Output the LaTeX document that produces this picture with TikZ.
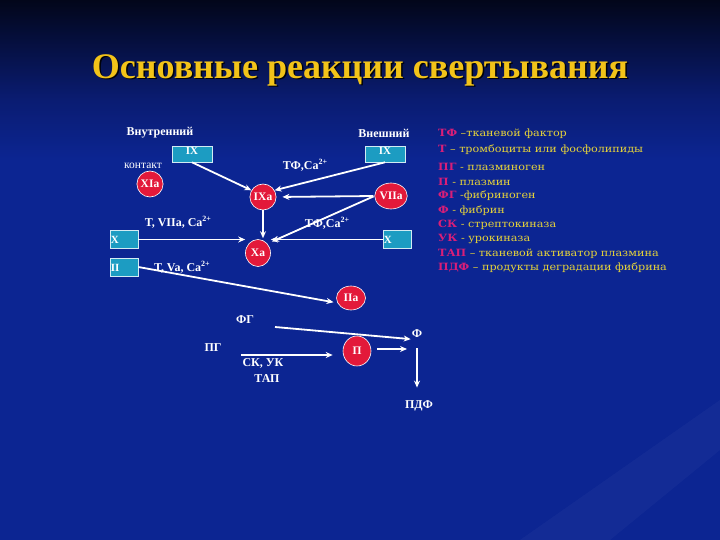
\documentclass[tikz,border=0pt]{standalone}
\usepackage{fontspec}
\setmainfont{Liberation Serif}
\newfontfamily\legfont[FakeStretch=1.12]{DejaVu Serif}
\usetikzlibrary{arrows.meta,shapes.geometric}
\definecolor{bgtop}{HTML}{02061A}
\definecolor{bgmid}{HTML}{0A1C72}
\definecolor{bgmain}{HTML}{0C2592}
\definecolor{titleyel}{HTML}{F2C319}
\definecolor{boxcyan}{HTML}{1C9CC2}
\definecolor{circred}{HTML}{E3193A}
\definecolor{legpink}{HTML}{D91E78}
\definecolor{legyel}{HTML}{E6D33A}
\newcommand{\sqp}{\raisebox{0.45em}{\fontsize{8}{8}\selectfont 2+}}
\begin{document}
\begin{tikzpicture}[x=1pt,y=-1pt,
  cbox/.style={draw=white!80!boxcyan, line width=0.6pt, fill=boxcyan, minimum width=40pt, minimum height=16pt, inner sep=0pt, text=white, text depth=6pt, font=\fontsize{11}{11}\selectfont\bfseries},
  sbox/.style={draw=white!80!boxcyan, line width=0.6pt, fill=boxcyan, minimum width=28pt, minimum height=18pt, inner sep=0pt},
  boxtxt/.style={text=white, inner sep=1pt, font=\fontsize{11}{11}\selectfont\bfseries},
  circ/.style={ellipse, draw=white, line width=0.6pt, fill=circred, inner sep=0pt, text=white, font=\fontsize{11.5}{11.5}\selectfont\bfseries},
  lbl/.style={text=white, inner sep=1pt, font=\fontsize{12}{12}\selectfont\bfseries},
  lblr/.style={text=white, inner sep=1pt, font=\fontsize{11.5}{12}\selectfont},
  arr/.style={-{Stealth[length=7pt,width=6pt]}, white, line width=1.8pt},
  leg/.style={anchor=west, inner sep=0pt, text=legyel, font=\legfont\fontsize{10}{10}\selectfont}
]
\useasboundingbox (0,0) rectangle (720,540);
% background
\fill[bgmain] (0,0) rectangle (720,540);
\shade[top color=bgtop, bottom color=bgmid] (0,0) rectangle (720,100);
\shade[top color=bgmid, bottom color=bgmain] (0,100) rectangle (720,160);
\fill[white, opacity=0.03] (520,540) -- (720,400) -- (720,450) -- (610,540) -- cycle;

% title
\node[text=black!70!bgtop, font=\fontsize{36}{36}\selectfont\bfseries] at (361.5,71.5) {Основные реакции свертывания};
\node[text=titleyel, font=\fontsize{36}{36}\selectfont\bfseries] (title) at (360,70) {Основные реакции свертывания};

% labels
\node[lbl] (lblInt) at (160,133) {Внутренний};
\node[lbl] (lblExt) at (384,133) {Внешний};
\node[lblr] (lblKont) at (143,166) {контакт};
\node[lbl] (lblTF1) at (305,165) {ТФ,Са\sqp};
\node[lbl] (lblTVII) at (178,222) {Т, VIIa, Са\sqp};
\node[lbl] (lblTF2) at (327,223) {ТФ,Са\sqp};
\node[lbl] (lblTVa) at (182,267) {Т, Va, Са\sqp};

% boxes
\node[cbox] (bIXl) at (192,154) {IX};
\node[cbox] (bIXr) at (385,154) {IX};
\node[sbox] (bXl) at (124,239.5) {};
\node[sbox] (bXr) at (397,239.5) {};
\node[sbox] (bII) at (124,267) {};
\node[boxtxt, anchor=west] (tXl) at (bXl.west) {X};
\node[boxtxt, anchor=west] (tXr) at (bXr.west) {X};
\node[boxtxt, anchor=west] (tII) at ([yshift=-1pt]bII.west) {II};

% circles
\node[circ, minimum width=24pt, minimum height=26pt] (XIa) at (150,184) {XIa};
\node[circ, minimum width=25pt, minimum height=26pt] (IXa) at (263,197) {IXa};
\node[circ, minimum width=29pt, minimum height=26pt] (VIIa) at (391,196) {VIIa};
\node[circ, minimum width=25pt, minimum height=27pt] (Xa) at (258,253) {Xa};
\node[circ, minimum width=29pt, minimum height=24pt] (IIa) at (351,298) {IIa};
\node[circ, minimum width=28pt, minimum height=30pt] (P) at (357,351) {П};

% lower labels
\node[lbl] (FG) at (245,320) {ФГ};
\node[lbl] (PG) at (213,348) {ПГ};
\node[lbl] (SKUK) at (263,363) {СК, УК};
\node[lbl] (TAP) at (267,379) {ТАП};
\node[lbl] (F) at (417,334) {Ф};
\node[lbl] (PDF) at (419,406) {ПДФ};
\coordinate (fgs) at (275,327);
\coordinate (pgs) at (241,355);
\coordinate (pend) at (407,349);

% arrows
\draw[arr] (bIXl.south) -- (IXa.150);
\draw[arr] (bIXr.south) -- (IXa.30);
\draw[arr, shorten >=6pt, shorten <=1pt] (VIIa.west) -- (IXa.east);
\draw[arr, shorten >=1pt] (IXa.south) -- (IXa.south |- Xa.north);
\draw[arr, shorten >=5pt, shorten <=1pt] (VIIa.west) -- (Xa.45);
\draw[arr] (bXl.east) -- (bXl.east -| Xa.west);
\draw[arr] (bXr.west) -- (bXr.west -| Xa.east);
\draw[arr, shorten >=4pt] (bII.east) -- (IIa.200);
\draw[arr] (fgs) -- (F.south west);
\draw[arr, shorten >=10pt] (pgs) -- (pgs -| P.west);
\draw[arr, shorten <=6pt] (P.east |- pend) -- (pend);
\draw[arr, shorten <=9pt, shorten >=12pt] (F.south) -- (F.south |- PDF.north);

% legend
\node[leg] (l1) at (438,134) {\textcolor{legpink}{\bfseries ТФ} –тканевой фактор};
\node[leg] (l2) at (438,150) {\textcolor{legpink}{\bfseries Т} – тромбоциты или фосфолипиды};
\node[leg] (l3) at (438,166.5) {\textcolor{legpink}{\bfseries ПГ} - плазминоген};
\node[leg] (l4) at (438,181.5) {\textcolor{legpink}{\bfseries П} - плазмин};
\node[leg] (l5) at (438,196) {\textcolor{legpink}{\bfseries ФГ} -фибриноген};
\node[leg] (l6) at (438,211) {\textcolor{legpink}{\bfseries Ф} - фибрин};
\node[leg] (l7) at (438,225) {\textcolor{legpink}{\bfseries СК} - стрептокиназа};
\node[leg] (l8) at (438,239) {\textcolor{legpink}{\bfseries УК} - урокиназа};
\node[leg] (l9) at (438,254) {\textcolor{legpink}{\bfseries ТАП} – тканевой активатор плазмина};
\node[leg] (l10) at (438,268) {\textcolor{legpink}{\bfseries ПДФ} – продукты деградации фибрина};
\end{tikzpicture}
\end{document}
